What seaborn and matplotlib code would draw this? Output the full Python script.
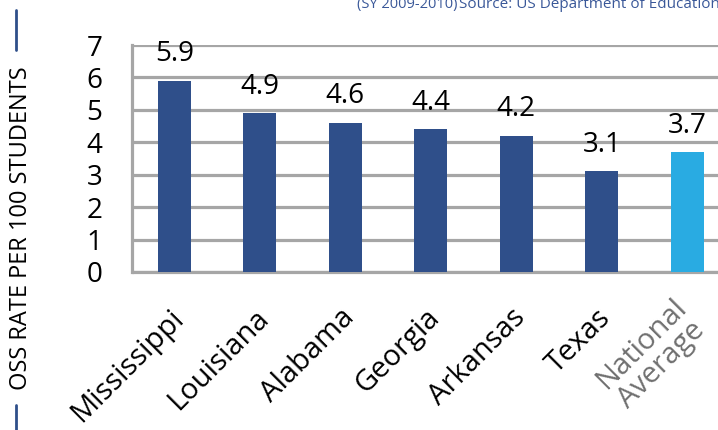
import matplotlib
matplotlib.use("Agg")
from matplotlib import pyplot as plt
from matplotlib import transforms
from matplotlib.lines import Line2D
import seaborn as sns
import pandas as pd
import numpy as np

states = ["Mississippi", "Louisiana", "Alabama", "Georgia", "Arkansas", "Texas",
          "National\nAverage"]
oss_rate = [5.9, 4.9, 4.6, 4.4, 4.2, 3.1, 3.7]
bar_colors = ["#2F4F8A"] * 6 + ["#29ABE2"]
y_ticks = [0, 1, 2, 3, 4, 5, 6, 7]

GRID = "#A6A6A6"
NAVY = "#3A5899"

sns.set_style("white")
plt.rcParams["font.family"] = ["Open Sans", "DejaVu Sans"]

df = pd.DataFrame({"state": states, "rate": oss_rate})

W, H = 718, 430
fig = plt.figure(figsize=(W / 100, H / 100), dpi=100)
# axes runs past the right edge, like the cropped original
ax = fig.add_axes([131.5 / W, (H - 272) / H, 7 * 85.5 / W, 227 / H])

sns.barplot(data=df, x="state", y="rate", hue="state", palette=bar_colors,
            legend=False, width=0.39, saturation=1, linewidth=0, ax=ax,
            zorder=3)

ax.set_ylim(0, 7)
ax.set_xlim(-0.5, 6.5)
ax.set_yticks(y_ticks)
ax.yaxis.grid(True, color=GRID, linewidth=2.3, zorder=0)
ax.set_axisbelow(True)
for side in ["top", "right", "bottom"]:
    ax.spines[side].set_visible(False)
ax.spines["left"].set_color(GRID)
ax.spines["left"].set_linewidth(2.3)
ax.spines["left"].set_zorder(1)

ax.tick_params(axis="y", length=7, width=2.3, color=GRID, labelsize=20,
               pad=14, labelcolor="black")

# tick marks sit between categories, labels at bar centres
ax.set_xticks(np.arange(-0.5, 7, 1), minor=True)
ax.tick_params(axis="x", which="minor", length=7, width=2.3, color=GRID,
               direction="out")
ax.tick_params(axis="x", which="major", length=0, pad=30, labelsize=21)
ax.axhline(0, color=GRID, linewidth=2.3, zorder=1, clip_on=False)

offset = transforms.ScaledTranslation(5 / 100, 0, fig.dpi_scale_trans)
for lbl in ax.get_xticklabels():
    lbl.set_rotation(45)
    lbl.set_ha("right")
    lbl.set_va("center")
    lbl.set_rotation_mode("anchor")
    lbl.set_multialignment("center")
    lbl.set_linespacing(1.0)
    lbl.set_transform(lbl.get_transform() + offset)
    if lbl.get_text().startswith("National"):
        lbl.set_color("#707070")
    else:
        lbl.set_color("black")

ax.set_xlabel("")
ax.set_ylabel("")

for i, v in enumerate(oss_rate):
    ax.annotate(f"{v:.1f}", (i, v), xytext=(0, 14), textcoords="offset points",
                ha="center", va="baseline", fontsize=20, color="black", zorder=4)

# rotated y title with the blue rules above and below it
fig.text(21 / W, 1 - 228 / H, "OSS RATE PER 100 STUDENTS", rotation=90,
         ha="center", va="center", fontsize=17, color="black")
fig.add_artist(Line2D([16 / W, 16 / W], [1 - 10 / H, 1 - 50 / H],
                      color="#2F4F8A", linewidth=2))
fig.add_artist(Line2D([16 / W, 16 / W], [1 - 405 / H, 0],
                      color="#2F4F8A", linewidth=2))

# source line, cut by the top edge
fig.text(357 / W, 1 - 8 / H, "(SY 2009-2010)", ha="left", va="baseline",
         fontsize=10.5, color=NAVY)
fig.text(459 / W, 1 - 8 / H, "Source: US Department of Education", ha="left",
         va="baseline", fontsize=11, color=NAVY)

plt.savefig("out.png", dpi=100)
plt.close()
